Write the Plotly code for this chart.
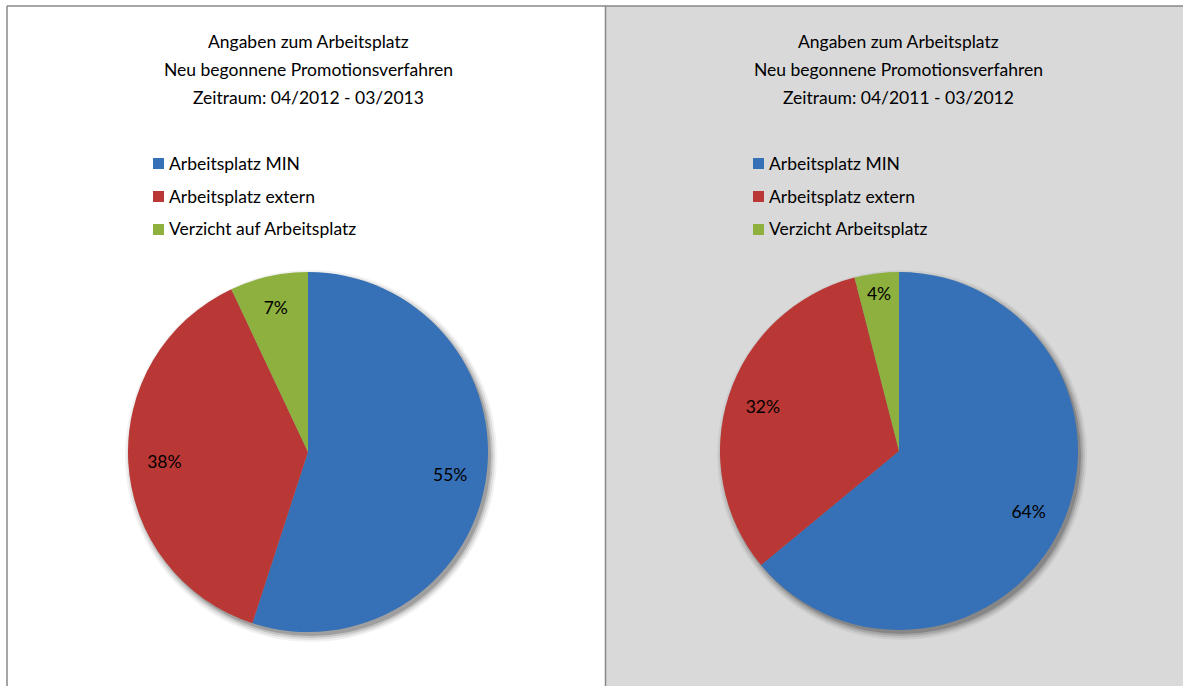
"""Two pie charts: Angaben zum Arbeitsplatz (neu begonnene Promotionsverfahren)."""

import plotly.graph_objects as go

# ── data ───────────────────────────────────────────────
labels_2012 = ["Arbeitsplatz MIN", "Arbeitsplatz extern", "Verzicht auf Arbeitsplatz"]
values_2012 = [55, 38, 7]

labels_2011 = ["Arbeitsplatz MIN", "Arbeitsplatz extern", "Verzicht Arbeitsplatz"]
values_2011 = [64, 32, 4]

titles = [
    ["Angaben zum Arbeitsplatz", "Neu begonnene Promotionsverfahren", "Zeitraum: 04/2012 - 03/2013"],
    ["Angaben zum Arbeitsplatz", "Neu begonnene Promotionsverfahren", "Zeitraum: 04/2011 - 03/2012"],
]

# ── style ──────────────────────────────────────────────
W, H = 1183, 686
FONT = "Lato, Open Sans, sans-serif"
FONT_SIZE = 17.5
SLICE_COLORS = ["#3670B6", "#B93734", "#8DB03F"]
PANEL_GRAY = "#D9D9D9"
BORDER = "#878787"

# pie geometry in pixels (centre x, centre y from top, radius)
pies = [(308, 452, 180), (899, 451, 179)]


def px_x(v):
    return v / W


def px_y(v):
    return 1 - v / H


fig = go.Figure()

for (cx, cy, r), labels, values in zip(pies, [labels_2012, labels_2011], [values_2012, values_2011]):
    domain = dict(x=[px_x(cx - r), px_x(cx + r)], y=[px_y(cy + r), px_y(cy - r)])
    # the coloured pie
    fig.add_trace(
        go.Pie(
            labels=labels,
            values=values,
            sort=False,
            direction="clockwise",
            rotation=0,
            marker=dict(colors=SLICE_COLORS, line=dict(width=0)),
            textinfo="none",
            domain=domain,
            showlegend=False,
            hoverinfo="label+percent",
        )
    )
    # transparent ring on top, only to push the percent labels outwards
    fig.add_trace(
        go.Pie(
            labels=labels,
            values=values,
            sort=False,
            direction="clockwise",
            rotation=0,
            hole=0.6,
            marker=dict(colors=["rgba(0,0,0,0)"] * len(values), line=dict(width=0)),
            texttemplate="%{percent:.0%}",
            textposition="inside",
            insidetextorientation="horizontal",
            textfont=dict(family=FONT, size=FONT_SIZE, color="#000000"),
            domain=domain,
            showlegend=False,
            hoverinfo="label+percent",
        )
    )

shapes = [
    # right panel background and frame lines
    dict(type="rect", xref="paper", yref="paper", x0=px_x(606), x1=1.0, y0=0, y1=px_y(6),
         fillcolor=PANEL_GRAY, line=dict(width=0), layer="below"),
    dict(type="line", xref="paper", yref="paper", x0=px_x(7), x1=1.0, y0=px_y(6), y1=px_y(6),
         line=dict(color=BORDER, width=1.5), layer="below"),
    dict(type="line", xref="paper", yref="paper", x0=px_x(7), x1=px_x(7), y0=0, y1=px_y(6),
         line=dict(color=BORDER, width=1.5), layer="below"),
    dict(type="line", xref="paper", yref="paper", x0=px_x(605.5), x1=px_x(605.5), y0=0, y1=px_y(6),
         line=dict(color=BORDER, width=1.5), layer="below"),
]

# soft drop shadow under each pie
for cx, cy, r in pies:
    for grow, alpha in [(6, 0.05), (4, 0.08), (2, 0.12), (0, 0.18)]:
        rr = r + grow
        sx, sy = cx + 3, cy + 4
        shapes.append(
            dict(type="circle", xref="paper", yref="paper",
                 x0=px_x(sx - rr), x1=px_x(sx + rr), y0=px_y(sy + rr), y1=px_y(sy - rr),
                 fillcolor=f"rgba(0,0,0,{alpha})", line=dict(width=0), layer="below")
        )

annotations = []
for (cx, cy, r), lines in zip(pies, titles):
    for i, line in enumerate(lines):
        annotations.append(
            dict(text=line, xref="paper", yref="paper", x=px_x(cx), y=px_y(42 + i * 27.5),
                 xanchor="center", yanchor="middle", showarrow=False,
                 font=dict(family=FONT, size=FONT_SIZE, color="#000000"))
        )

# legends (left at x=153, right at x=753)
for lx, labels in zip([153, 753], [labels_2012, labels_2011]):
    for i, (label, color) in enumerate(zip(labels, SLICE_COLORS)):
        ly = 163 + i * 33
        shapes.append(
            dict(type="rect", xref="paper", yref="paper",
                 x0=px_x(lx), x1=px_x(lx + 11), y0=px_y(ly + 6), y1=px_y(ly - 5),
                 fillcolor=color, line=dict(width=0))
        )
        annotations.append(
            dict(text=label, xref="paper", yref="paper", x=px_x(lx + 14), y=px_y(ly),
                 xanchor="left", yanchor="middle", showarrow=False,
                 font=dict(family=FONT, size=FONT_SIZE, color="#000000"))
        )

fig.update_layout(
    width=W,
    height=H,
    margin=dict(l=0, r=0, t=0, b=0),
    paper_bgcolor="#FFFFFF",
    plot_bgcolor="#FFFFFF",
    font=dict(family=FONT, size=FONT_SIZE, color="#000000"),
    shapes=shapes,
    annotations=annotations,
    showlegend=False,
)

# drop the default page margin so the figure sits at the window origin
fig.write_html(
    "out.html",
    config={"displayModeBar": False},
    post_script="document.body.style.margin='0';",
)
